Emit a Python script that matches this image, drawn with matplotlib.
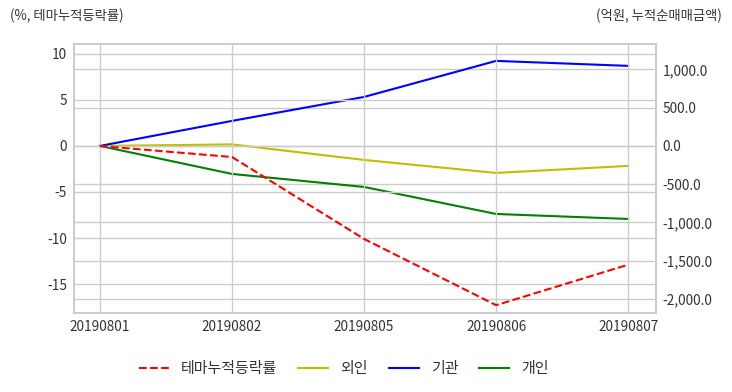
import matplotlib
matplotlib.use("Agg")
import matplotlib.pyplot as plt
from matplotlib.ticker import FuncFormatter, FixedLocator

dates = ["20190801", "20190802", "20190805", "20190806", "20190807"]
theme = [0.0, -1.2, -10.1, -17.3, -12.9]
foreign = [0.0, 20.0, -183.0, -353.0, -261.0]
inst = [0.0, 327.0, 640.0, 1111.0, 1046.0]
indiv = [0.0, -366.0, -536.0, -889.0, -954.0]

left_ticks = [10, 5, 0, -5, -10, -15]
right_ticks = [1000, 500, 0, -500, -1000, -1500, -2000]

plt.rcParams['font.family'] = ['Noto Sans CJK KR', 'DejaVu Sans']
plt.rcParams['axes.unicode_minus'] = False

fig = plt.figure(figsize=(7.32, 3.92), dpi=100)
ax = fig.add_axes([0.101, 0.2015, 0.795, 0.6865])
ax2 = ax.twinx()

grid_c = '#cccccc'
text_c = '#333333'
x = list(range(len(dates)))

l1, = ax.plot(x, theme, color='red', linestyle='--', lw=1.5, label='테마누적등락률')
l2, = ax2.plot(x, foreign, color='#bfbf00', lw=1.5, label='외인')
l3, = ax2.plot(x, inst, color='#0000ff', lw=1.5, label='기관')
l4, = ax2.plot(x, indiv, color='#008000', lw=1.5, label='개인')

ax.set_xlim(-0.197, 4.21)
ax.set_ylim(-18.15, 11.09)
ax2.set_ylim(-2183, 1333)
ax.set_xticks(x)
ax.set_xticklabels(dates)
ax.yaxis.set_major_locator(FixedLocator(left_ticks))
ax2.yaxis.set_major_locator(FixedLocator(right_ticks))
ax2.yaxis.set_major_formatter(FuncFormatter(lambda v, p: f"{v:,.1f}"))

for a in (ax, ax2):
    a.grid(True, color=grid_c, lw=1)
    a.set_axisbelow(True)
    for s in a.spines.values():
        s.set_color(grid_c)
        s.set_linewidth(1.2)
    a.tick_params(length=0, labelsize=9.8, colors=text_c, pad=5)
ax2.grid(True, axis='y', color=grid_c, lw=1)
ax2.xaxis.grid(False)
ax.set_zorder(ax2.get_zorder() + 1)
ax.patch.set_visible(False)

fig.text(10/732, 1 - 16/392, '(%, 테마누적등락률)', fontsize=9.6, color=text_c, va='center', ha='left')
fig.text(722/732, 1 - 16/392, '(억원, 누적순매매금액)', fontsize=9.6, color=text_c, va='center', ha='right')

fig.legend(handles=[l1, l2, l3, l4], loc='center', bbox_to_anchor=(0.47, 1 - 369/392),
           ncol=4, frameon=False, fontsize=10.8, handlelength=2.0, handletextpad=0.8,
           columnspacing=1.4, labelcolor=text_c)

fig.savefig('out.png', dpi=100)
